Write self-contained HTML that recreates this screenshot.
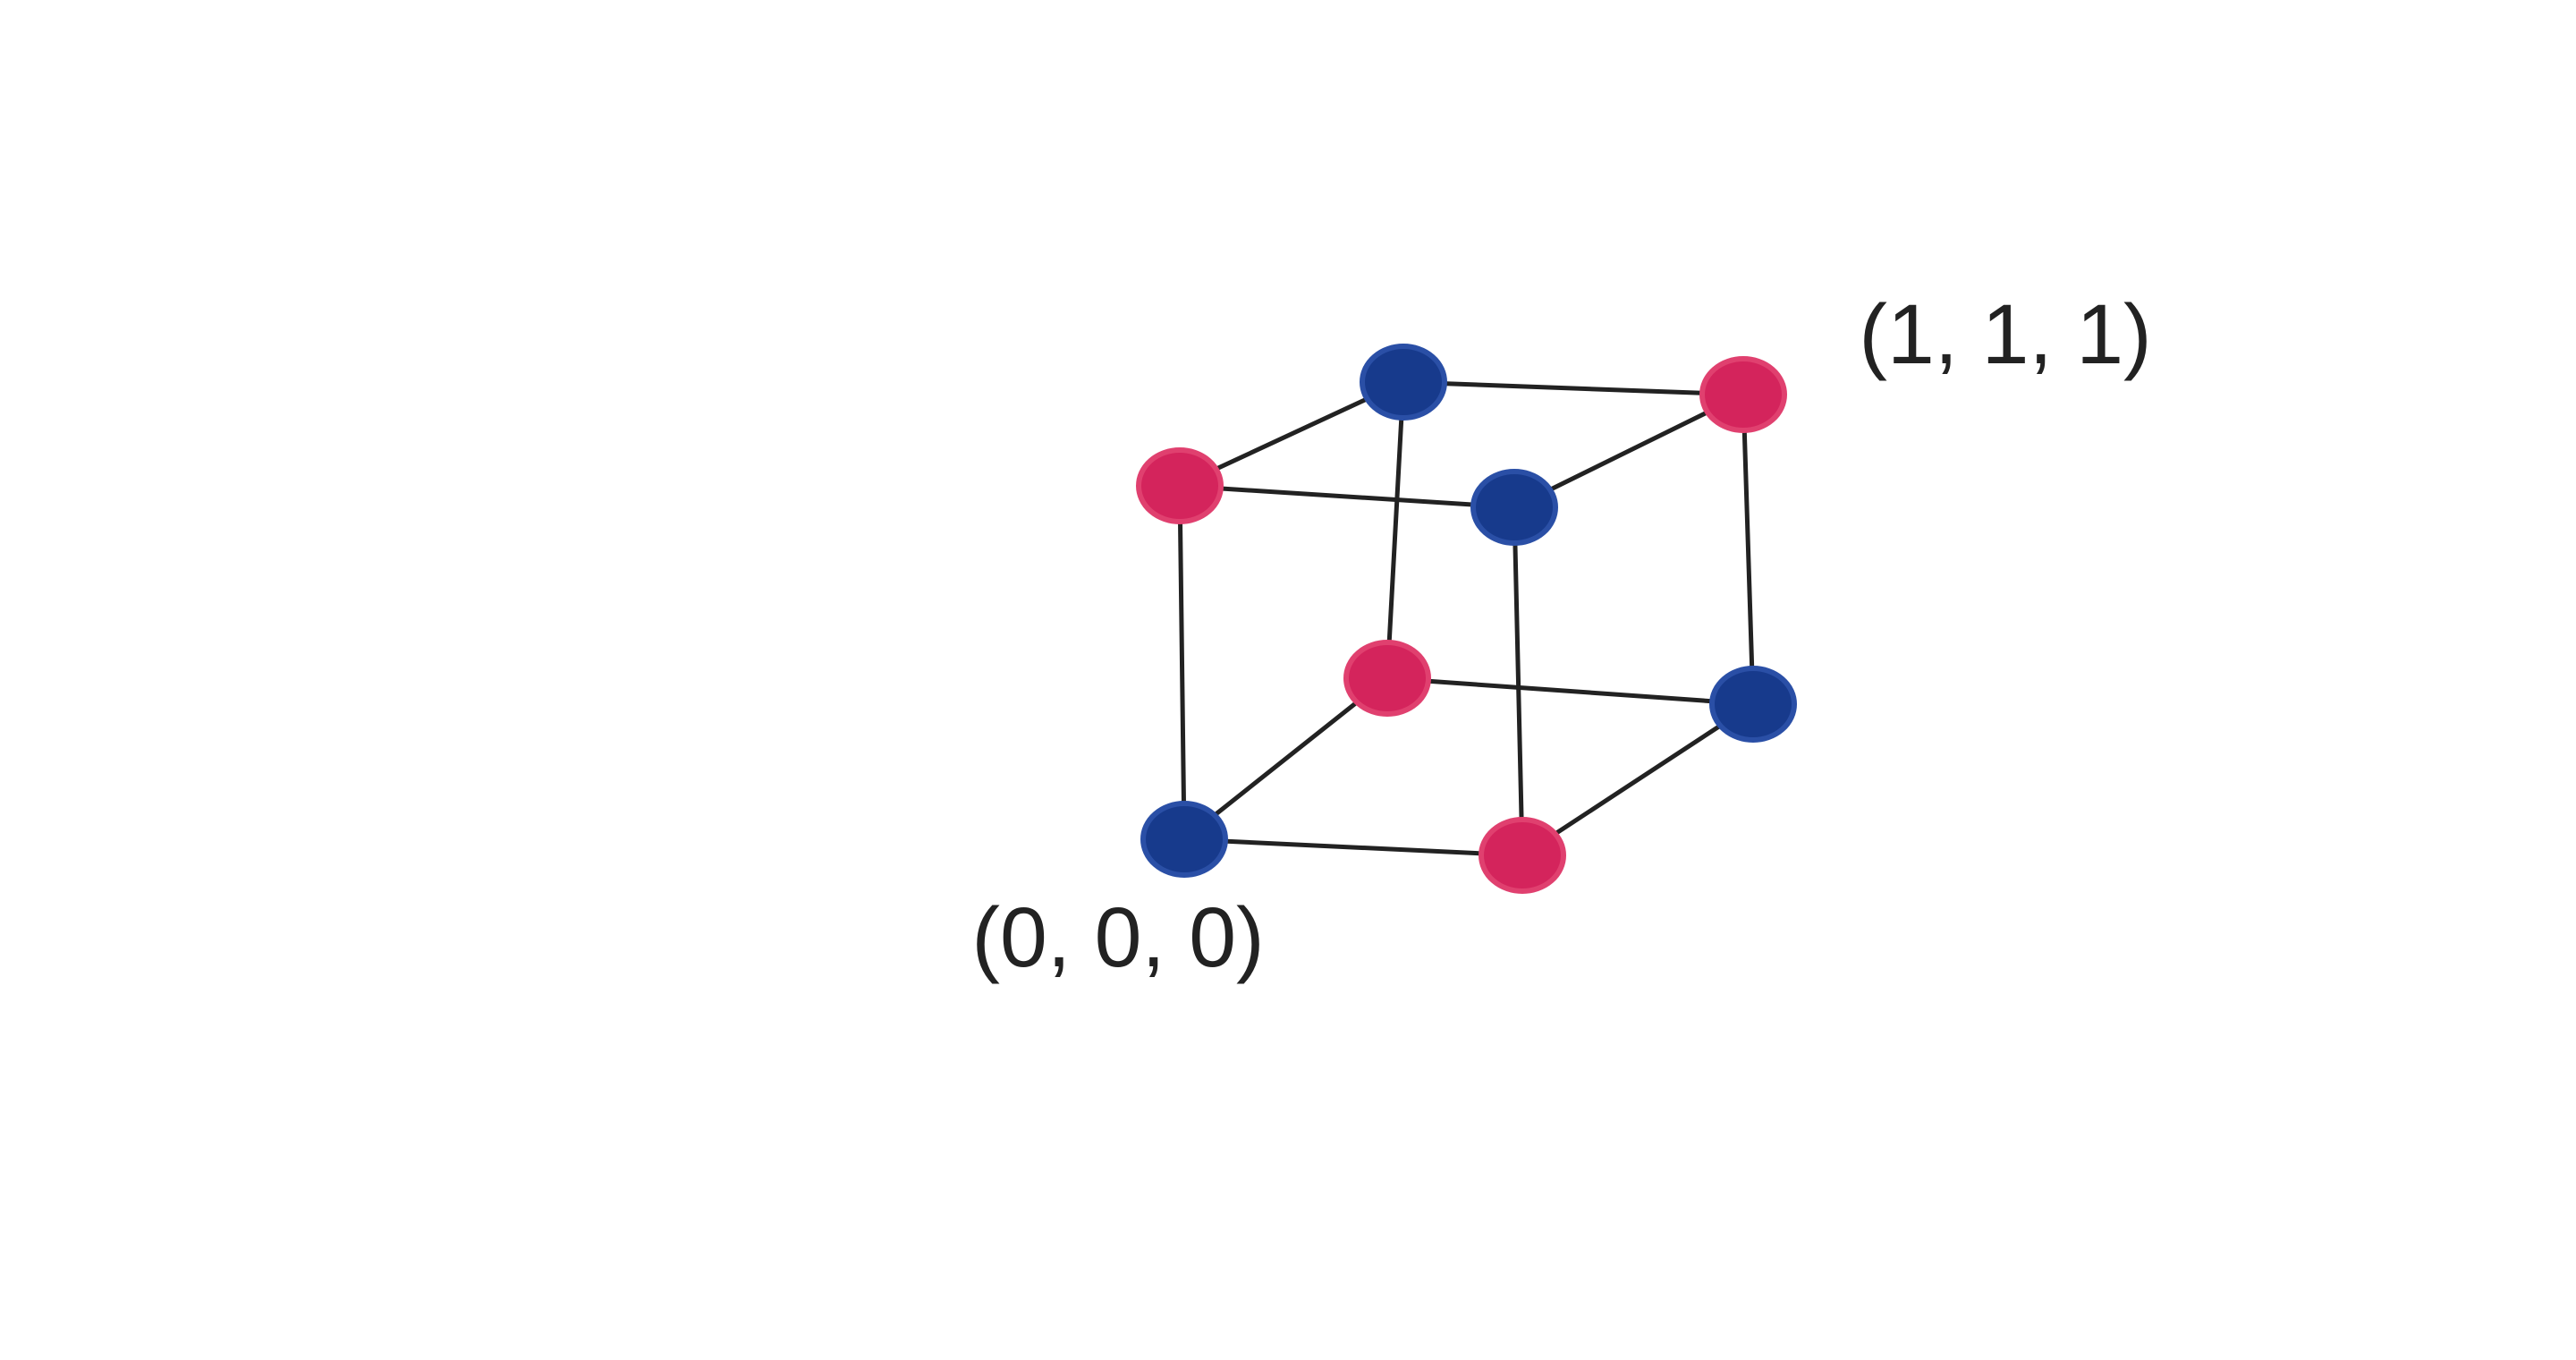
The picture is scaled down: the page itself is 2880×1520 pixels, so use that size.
<!DOCTYPE html>
<html><head><meta charset="utf-8"><style>
html,body{margin:0;padding:0;background:#fff;}
svg{display:block;}
</style></head><body>
<svg id="chart" width="2880" height="1520" viewBox="0 0 2880 1520">
<rect width="2880" height="1520" fill="#fff"/>
<g id="edges"></g>
<g id="nodes"></g>
<text x="2242" y="406" font-family="Liberation Sans, sans-serif" font-size="95" fill="#222" text-anchor="middle">(1, 1, 1)</text>
<text x="1250" y="1080" font-family="Liberation Sans, sans-serif" font-size="95" fill="#222" text-anchor="middle">(0, 0, 0)</text>
</svg>
<script>
const nodeNames = ['top-back-left','top-back-right','top-front-left','top-front-right','bottom-back-left','bottom-back-right','bottom-front-left','bottom-front-right'];
const nodeX = [1569,1949,1319,1693,1551,1960,1324,1702];
const nodeY = [427,441,543,567,758,787,938,956];
const nodeColor = ['blue','pink','pink','blue','pink','blue','blue','pink'];
const edgeFrom = [0,2,0,1,2,0,3,1,4,6,4,5];
const edgeTo   = [1,3,2,3,6,4,7,5,5,7,6,7];
const fills = {blue:'#173a8c', pink:'#d4245c'};
const strokes = {blue:'#2a4fa6', pink:'#e0406f'};
const NS='http://www.w3.org/2000/svg';
const eg=document.getElementById('edges'), ng=document.getElementById('nodes');
for(let i=0;i<edgeFrom.length;i++){
  const l=document.createElementNS(NS,'line');
  l.setAttribute('x1',nodeX[edgeFrom[i]]);l.setAttribute('y1',nodeY[edgeFrom[i]]);
  l.setAttribute('x2',nodeX[edgeTo[i]]);l.setAttribute('y2',nodeY[edgeTo[i]]);
  l.setAttribute('stroke','#222');l.setAttribute('stroke-width','5');l.setAttribute('stroke-linecap','round');
  
  
  eg.appendChild(l);
}
for(let i=0;i<nodeX.length;i++){
  const e=document.createElementNS(NS,'ellipse');
  e.setAttribute('cx',nodeX[i]);e.setAttribute('cy',nodeY[i]);
  e.setAttribute('rx',46);e.setAttribute('ry',40);
  e.setAttribute('fill',fills[nodeColor[i]]);
  e.setAttribute('stroke',strokes[nodeColor[i]]);e.setAttribute('stroke-width','6');
  
  
  ng.appendChild(e);
}
</script>
</body></html>
